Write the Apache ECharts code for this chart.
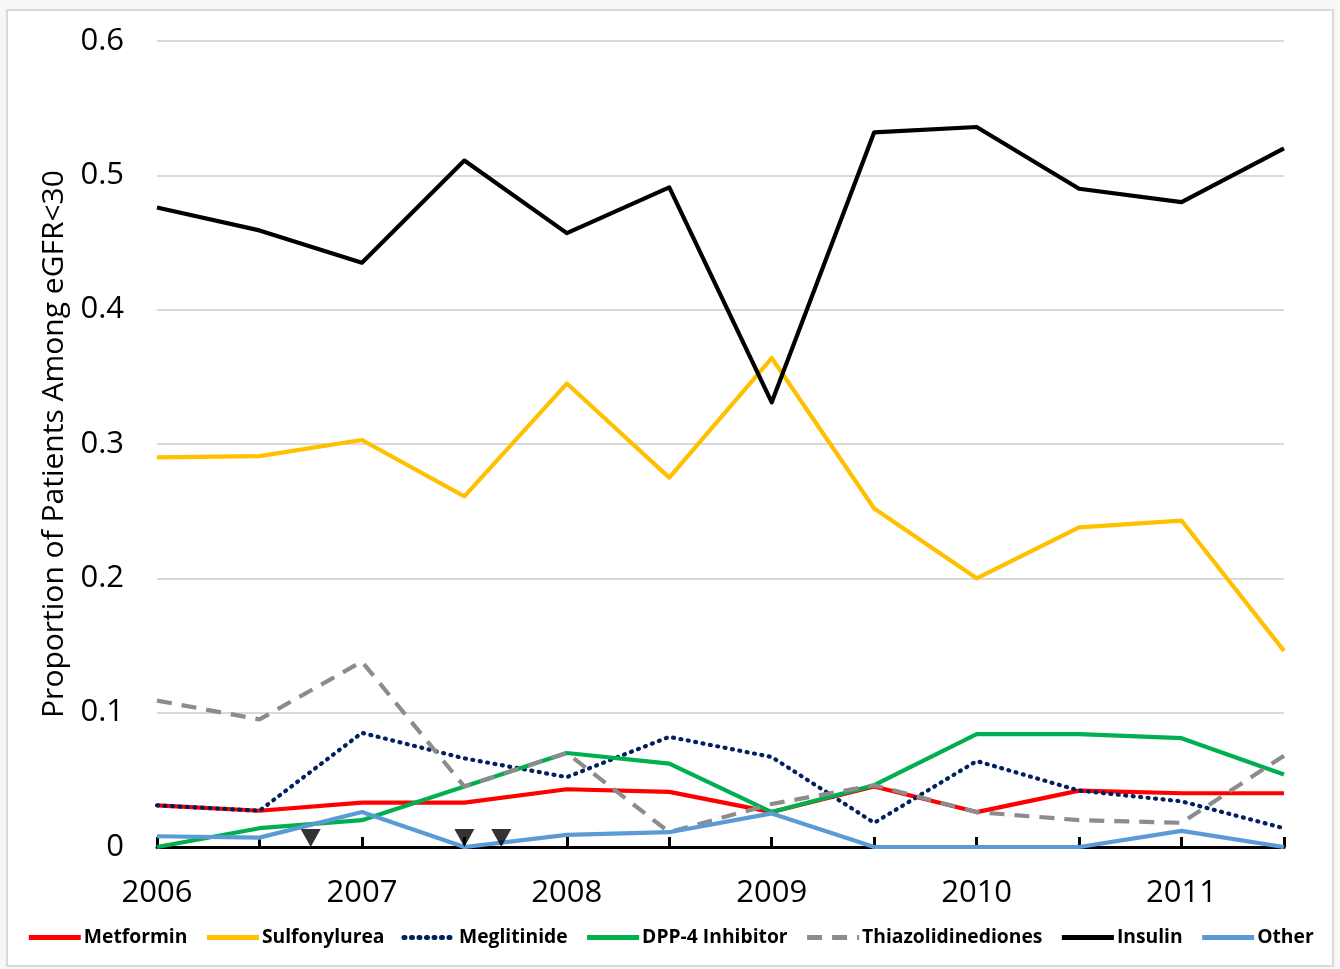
<!DOCTYPE html>
<html><head><meta charset="utf-8">
<script src="https://cdn.jsdelivr.net/npm/echarts@6/dist/echarts.min.js"></script>
<style>html,body{margin:0;padding:0;background:#f7f7f7;}#c{width:1340px;height:969px;}</style>
</head><body><div id="c"></div>
<script>
const periods = [2006, 2006.5, 2007, 2007.5, 2008, 2008.5, 2009, 2009.5, 2010, 2010.5, 2011, 2011.5];
const yearLabels = [2006, 2007, 2008, 2009, 2010, 2011];
const metformin = [0.031, 0.027, 0.033, 0.033, 0.043, 0.041, 0.026, 0.045, 0.026, 0.042, 0.040, 0.040];
const sulfonylurea = [0.290, 0.291, 0.303, 0.261, 0.345, 0.275, 0.364, 0.252, 0.200, 0.238, 0.243, 0.146];
const meglitinide = [0.031, 0.027, 0.085, 0.066, 0.052, 0.082, 0.067, 0.018, 0.064, 0.042, 0.034, 0.014];
const dpp4 = [0.000, 0.014, 0.020, 0.045, 0.070, 0.062, 0.026, 0.046, 0.084, 0.084, 0.081, 0.054];
const thiazolidinediones = [0.109, 0.095, 0.138, 0.045, 0.070, 0.011, 0.032, 0.046, 0.026, 0.020, 0.018, 0.068];
const insulin = [0.476, 0.459, 0.435, 0.511, 0.457, 0.491, 0.331, 0.532, 0.536, 0.490, 0.480, 0.520];
const other = [0.008, 0.007, 0.026, 0.000, 0.009, 0.011, 0.025, 0.000, 0.000, 0.000, 0.012, 0.000];
const eventMarks = [2006.75, 2007.5, 2007.68];
const seriesNames = ['Metformin', 'Sulfonylurea', 'Meglitinide', 'DPP-4 Inhibitor', 'Thiazolidinediones', 'Insulin', 'Other'];

const pair = arr => periods.map((p, i) => [p, arr[i]]);
const mk = (name, arr, color, type, cap) => ({
  name, type: 'line', data: pair(arr), symbol: 'none', showSymbol: false,
  lineStyle: { color, width: 4.2, type: type || 'solid', cap: cap || 'butt', join: 'round' },
  itemStyle: { color }
});

const chart = echarts.init(document.getElementById('c'));
chart.setOption({
  backgroundColor: '#f7f7f7',
  animation: false,
  graphic: [{ type: 'rect', shape: { x: 7, y: 10, width: 1326, height: 956 },
    style: { fill: '#ffffff', stroke: '#d9d9d9', lineWidth: 2 }, z: -10 }],
  grid: { left: 157, right: 56, top: 41, bottom: 122 },
  legend: {
    data: seriesNames, bottom: 17, left: 'center', itemWidth: 52, itemHeight: 5, itemGap: 17,
    itemStyle: { opacity: 0 },
    lineStyle: { width: 5 },
    textStyle: { fontFamily: 'Open Sans', fontWeight: 'bold', fontSize: 19.3, color: '#000', padding: [0, 0, 0, -2] }
  },
  xAxis: {
    type: 'value', min: 2006, max: 2011.5, interval: 0.5,
    axisLine: { onZero: true, lineStyle: { color: '#000', width: 3 } },
    axisTick: { inside: true, length: 10, lineStyle: { color: '#000', width: 3 } },
    splitLine: { show: false },
    axisLabel: {
      margin: 31, fontFamily: 'Open Sans', fontSize: 31, color: '#000',
      formatter: v => (yearLabels.indexOf(v) >= 0 ? String(v) : '')
    }
  },
  yAxis: {
    type: 'value', min: 0, max: 0.6, interval: 0.1,
    name: 'Proportion of Patients Among eGFR<30', nameLocation: 'middle', nameGap: 85,
    nameTextStyle: { fontFamily: 'Open Sans', fontSize: 30, color: '#000' },
    axisLine: { show: false }, axisTick: { show: false },
    splitLine: { lineStyle: { color: '#d9d9d9', width: 2 } },
    axisLabel: { margin: 33, fontFamily: 'Open Sans', fontSize: 31, color: '#000' }
  },
  series: [
    mk('Metformin', metformin, '#ff0000'),
    mk('Sulfonylurea', sulfonylurea, '#ffc000'),
    mk('Meglitinide', meglitinide, '#002060', [1, 6.5], 'round'),
    mk('DPP-4 Inhibitor', dpp4, '#00b050'),
    mk('Thiazolidinediones', thiazolidinediones, '#8c8c8c', [15, 10]),
    mk('Insulin', insulin, '#000000'),
    mk('Other', other, '#5b9bd5'),
    { name: 'events', type: 'scatter', data: eventMarks.map(x => [x, 0]),
      symbol: 'triangle', symbolRotate: 180, symbolSize: [20, 18], symbolOffset: [0, -9],
      itemStyle: { color: '#000' }, z: 5, clip: false }
  ]
});
</script></body></html>
